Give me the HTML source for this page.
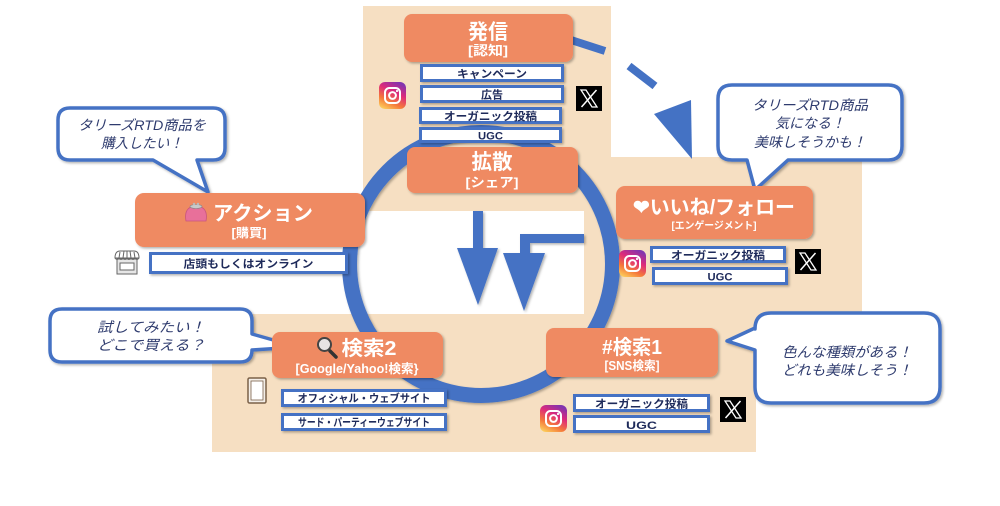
<!DOCTYPE html>
<html><head><meta charset="utf-8"><style>
html,body{margin:0;padding:0;background:#fff;}
svg{display:block;}
text{font-family:"Liberation Sans","Noto Sans CJK JP",sans-serif;}
.t{fill:#fff;font-weight:bold;text-anchor:middle;}
.s{fill:#1E2A5A;font-weight:bold;text-anchor:middle;font-size:11px;}
.b{fill:#2E3B6E;font-style:italic;text-anchor:middle;font-size:14px;}
</style></head><body>
<svg width="1000" height="506" viewBox="0 0 1000 506" xmlns="http://www.w3.org/2000/svg">
<defs>
<filter id="sh" x="-10%" y="-10%" width="130%" height="140%"><feDropShadow dx="1.5" dy="1.5" stdDeviation="1.2" flood-color="#000" flood-opacity="0.3"/></filter>
<linearGradient id="ig" x1="0.2" y1="1" x2="0.7" y2="0">
<stop offset="0" stop-color="#FCCB5A"/><stop offset="0.3" stop-color="#F5793A"/><stop offset="0.65" stop-color="#DD2A7B"/><stop offset="1" stop-color="#8134AF"/>
</linearGradient>
<g id="insta">
<rect x="0" y="0" width="27" height="27" rx="6" fill="url(#ig)"/>
<rect x="6" y="6" width="15" height="15" rx="4.5" fill="none" stroke="#fff" stroke-width="2"/>
<circle cx="13.5" cy="13.5" r="3.4" fill="none" stroke="#fff" stroke-width="2"/>
<circle cx="18" cy="9" r="1.1" fill="#fff"/>
</g>
<g id="xlogo">
<rect x="0" y="0" width="26" height="25" fill="#000"/>
<polygon points="5,4 10,4 21,21 16,21" fill="#000" stroke="#fff" stroke-width="1.3"/>
<line x1="20.5" y1="4" x2="5.5" y2="21" stroke="#fff" stroke-width="1.5"/>
</g>
</defs>

<!-- beige background -->
<g fill="#F6DFC2">
<rect x="363" y="6" width="248" height="205"/>
<rect x="584" y="157" width="278" height="170"/>
<rect x="212" y="314" width="544" height="138"/>
</g>

<!-- ring -->
<circle cx="481" cy="264" r="131.5" fill="none" stroke="#4472C4" stroke-width="15" filter="url(#sh)"/>

<!-- center arrows -->
<g fill="#4472C4" filter="url(#sh)">
<rect x="473" y="211" width="10" height="40"/>
<polygon points="457,248 498,248 478,305"/>
<polygon points="584,234 520,234 520,254 530,254 530,243 584,243"/>
<polygon points="503,253 545,253 524,311"/>
</g>

<!-- dashed arc top-right -->
<g stroke="#4472C4" stroke-width="8" fill="none">
<line x1="571" y1="40" x2="605" y2="51"/>
<line x1="629" y1="66" x2="655" y2="86"/>
</g>
<polygon points="654,114 691,100 692,159" fill="#4472C4"/>

<!-- bubbles -->
<g fill="#fff" stroke="#4472C4" stroke-width="3.5" stroke-linejoin="round" filter="url(#sh)">
<path d="M70,108 H213 Q225,108 225,120 V148 Q225,160 213,160 H197 L208,192 L153,160 H70 Q58,160 58,148 V120 Q58,108 70,108 Z"/>
<path d="M732,85 H888 Q902,85 902,99 V146 Q902,160 888,160 H788 L755,190 L747,160 H732 Q718,160 718,146 V99 Q718,85 732,85 Z"/>
<path d="M62,309 H240 Q252,309 252,321 V334 L298,347 L252,350 Q252,362 240,362 H62 Q50,362 50,350 V321 Q50,309 62,309 Z"/>
<path d="M771,313 H924 Q940,313 940,329 V387 Q940,403 924,403 H771 Q755,403 755,387 V350 L727,341 L755,328 V329 Q755,313 771,313 Z"/>
</g>
<text class="b" x="142" y="130" textLength="128" lengthAdjust="spacingAndGlyphs">タリーズRTD商品を</text>
<text class="b" x="142" y="148" textLength="82" lengthAdjust="spacingAndGlyphs">購入したい！</text>
<text class="b" x="810" y="110" textLength="116" lengthAdjust="spacingAndGlyphs">タリーズRTD商品</text>
<text class="b" x="810" y="128">気になる！</text>
<text class="b" x="810" y="147">美味しそうかも！</text>
<text class="b" x="151" y="332" textLength="108" lengthAdjust="spacingAndGlyphs">試してみたい！</text>
<text class="b" x="151" y="350" textLength="108" lengthAdjust="spacingAndGlyphs">どこで買える？</text>
<text class="b" x="847" y="357" textLength="130" lengthAdjust="spacingAndGlyphs">色んな種類がある！</text>
<text class="b" x="847" y="375" textLength="130" lengthAdjust="spacingAndGlyphs">どれも美味しそう！</text>

<!-- orange boxes -->
<g fill="#EF8A62" filter="url(#sh)">
<rect x="404" y="14" width="169" height="48" rx="8"/>
<rect x="407" y="147" width="171" height="46" rx="8"/>
<rect x="135" y="193" width="230" height="54" rx="9"/>
<rect x="616" y="186" width="197" height="53" rx="9"/>
<rect x="546" y="328" width="172" height="49" rx="8"/>
<rect x="272" y="332" width="171" height="46" rx="8"/>
</g>
<text class="t" x="488" y="39" font-size="21" textLength="40" lengthAdjust="spacingAndGlyphs">発信</text>
<text class="t" x="488" y="55" font-size="13" textLength="40" lengthAdjust="spacingAndGlyphs">[認知]</text>
<text class="t" x="492" y="169" font-size="21" textLength="41" lengthAdjust="spacingAndGlyphs">拡散</text>
<text class="t" x="492" y="187" font-size="13" textLength="53" lengthAdjust="spacingAndGlyphs">[シェア]</text>
<text class="t" x="263" y="220" font-size="20" textLength="100" lengthAdjust="spacingAndGlyphs">アクション</text>
<text class="t" x="249" y="237" font-size="12" textLength="35" lengthAdjust="spacingAndGlyphs">[購買]</text>
<text class="t" x="714" y="214" font-size="20" textLength="162" lengthAdjust="spacingAndGlyphs">❤いいね/フォロー</text>
<text class="t" x="714" y="229" font-size="10" textLength="85" lengthAdjust="spacingAndGlyphs">[エンゲージメント]</text>
<text class="t" x="632" y="354" font-size="20" textLength="60" lengthAdjust="spacingAndGlyphs">#検索1</text>
<text class="t" x="632" y="370" font-size="12.5" textLength="55" lengthAdjust="spacingAndGlyphs">[SNS検索]</text>
<text class="t" x="369" y="355" font-size="20" textLength="55" lengthAdjust="spacingAndGlyphs">検索2</text>
<text class="t" x="357" y="373" font-size="12.5" textLength="123" lengthAdjust="spacingAndGlyphs">[Google/Yahoo!検索}</text>

<!-- purse icon -->
<g>
<path d="M186,221 Q184,210 191,207 Q196,204 201,207 Q208,210 206,221 Z" fill="#E8709A" stroke="#C85580" stroke-width="0.8"/>
<ellipse cx="196" cy="206.5" rx="6" ry="2" fill="#C9C9C9" stroke="#888" stroke-width="0.6"/>
<circle cx="194" cy="204" r="1.2" fill="#bbb"/><circle cx="198" cy="204" r="1.2" fill="#bbb"/>
</g>
<!-- magnifier -->
<g>
<line x1="330" y1="351" x2="336" y2="357" stroke="#333" stroke-width="3.5" stroke-linecap="round"/>
<circle cx="324.5" cy="344.5" r="6.5" fill="#E8E4E4" stroke="#444" stroke-width="2"/>
</g>

<!-- small boxes -->
<g fill="#fff" stroke="#4472C4" stroke-width="3" filter="url(#sh)">
<rect x="421.5" y="65.5" width="141" height="15"/>
<rect x="421.5" y="86.5" width="141" height="15"/>
<rect x="420.5" y="108.5" width="140" height="14"/>
<rect x="420.5" y="128.5" width="140" height="13"/>
<rect x="150.5" y="253.5" width="196" height="19"/>
<rect x="651.5" y="247.5" width="133" height="14"/>
<rect x="653.5" y="268.5" width="133" height="15"/>
<rect x="282.5" y="390.5" width="163" height="15"/>
<rect x="282.5" y="414.5" width="163" height="15"/>
<rect x="574.5" y="395.5" width="134" height="15"/>
<rect x="574.5" y="416.5" width="134" height="15"/>
</g>
<text class="s" x="492" y="77.5" textLength="70" lengthAdjust="spacingAndGlyphs">キャンペーン</text>
<text class="s" x="492" y="98.5" textLength="22" lengthAdjust="spacingAndGlyphs">広告</text>
<text class="s" x="490.5" y="120" textLength="93" lengthAdjust="spacingAndGlyphs">オーガニック投稿</text>
<text class="s" x="490.5" y="139.5" textLength="25" lengthAdjust="spacingAndGlyphs">UGC</text>
<text class="s" x="248.5" y="267.5" font-size="11.5" textLength="130" lengthAdjust="spacingAndGlyphs">店頭もしくはオンライン</text>
<text class="s" x="718" y="259" textLength="94" lengthAdjust="spacingAndGlyphs">オーガニック投稿</text>
<text class="s" x="720" y="280.5" textLength="25" lengthAdjust="spacingAndGlyphs">UGC</text>
<text class="s" x="364" y="402" font-size="10" textLength="133" lengthAdjust="spacingAndGlyphs">オフィシャル・ウェブサイト</text>
<text class="s" x="364" y="426" font-size="9" textLength="132" lengthAdjust="spacingAndGlyphs">サード・パーティーウェブサイト</text>
<text class="s" x="641.5" y="407.5" textLength="93" lengthAdjust="spacingAndGlyphs">オーガニック投稿</text>
<text class="s" x="641.5" y="429" font-size="14" textLength="31" lengthAdjust="spacingAndGlyphs">UGC</text>

<!-- instagram icons -->
<use href="#insta" x="379" y="82"/>
<use href="#insta" x="619" y="250"/>
<use href="#insta" x="540" y="405"/>
<!-- X icons -->
<use href="#xlogo" x="576" y="86"/>
<use href="#xlogo" x="795" y="249"/>
<use href="#xlogo" x="720" y="397"/>

<!-- store icon -->
<g stroke="#666" stroke-width="1" fill="#fff">
<rect x="117" y="259" width="20" height="15" fill="#E6E6E6"/>
<rect x="120" y="263" width="14" height="7" fill="#fff"/>
<path d="M115,258 Q115,251 120,251 H134 Q139,251 139,258 Z" fill="#fff"/>
<path d="M115,258 Q117,261 119,258 Q121,261 123,258 Q125,261 127,258 Q129,261 131,258 Q133,261 135,258 Q137,261 139,258" fill="none"/>
<line x1="120" y1="252" x2="119" y2="258"/><line x1="124" y1="251" x2="123" y2="258"/><line x1="127" y1="251" x2="127" y2="258"/><line x1="130" y1="251" x2="131" y2="258"/><line x1="134" y1="252" x2="135" y2="258"/>
</g>
<!-- tablet icon -->
<rect x="248" y="378" width="18" height="25" rx="1.5" fill="#F3EEE8" stroke="#7A6048" stroke-width="1.5"/>
<rect x="251" y="381" width="12" height="19" fill="#fff" stroke="#7A6048" stroke-width="0.8"/>
</svg>
</body></html>
